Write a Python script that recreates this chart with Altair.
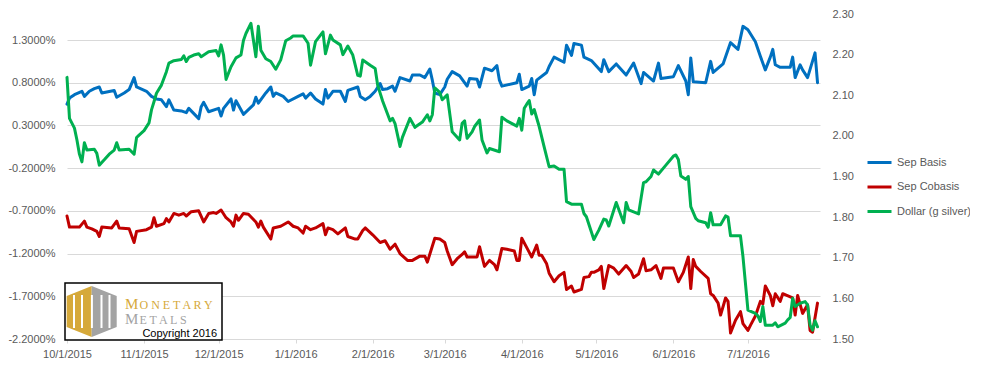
import altair as alt
import pandas as pd

FONT = "Liberation Sans"
TXT = "#595959"
GRID = "#d9d9d9"

# ---- data: day offsets from 2015-10-01 and values ----
basis_day = [0, 1, 3, 6, 7, 9, 11, 13, 14, 19, 20, 23, 25, 27, 28, 32, 34, 36, 38, 40, 41, 43, 46, 48, 49,
             53, 54, 55, 57, 61, 62, 63, 66, 67, 68, 71, 75, 76, 77, 80, 82, 83, 84, 87, 89, 93, 95, 96, 98,
             100, 103, 104, 105, 107, 110, 112, 113, 117, 118, 120, 122, 124, 126, 127, 129, 131, 132, 134,
             138, 139, 142, 144, 146, 147, 148, 150, 152, 153, 155, 158, 161, 162, 165, 166, 168, 171, 173,
             174, 175, 181, 182, 183, 186, 187, 188, 189, 193, 194, 196, 200, 201, 203, 204, 207, 208, 211,
             215, 216, 218, 221, 225, 228, 231, 232, 236, 238, 239, 244, 246, 249, 250, 251, 252, 257, 259,
             260, 264, 267, 270, 272, 274, 277, 279, 281, 283, 284, 285, 287, 291, 292, 293, 295, 296, 298,
             301, 302]
basis_val = [0.55, 0.62, 0.66, 0.70, 0.64, 0.70, 0.73, 0.75, 0.68, 0.71, 0.63, 0.68, 0.72, 0.86, 0.75, 0.70,
             0.64, 0.61, 0.60, 0.52, 0.60, 0.48, 0.47, 0.45, 0.50, 0.38, 0.52, 0.57, 0.46, 0.50, 0.41, 0.50,
             0.61, 0.48, 0.59, 0.43, 0.54, 0.63, 0.56, 0.68, 0.75, 0.64, 0.68, 0.64, 0.58, 0.64, 0.67, 0.62,
             0.68, 0.61, 0.55, 0.72, 0.62, 0.70, 0.70, 0.58, 0.71, 0.75, 0.64, 0.60, 0.64, 0.70, 0.79, 0.72,
             0.73, 0.76, 0.70, 0.86, 0.82, 0.89, 0.89, 0.86, 0.96, 0.83, 0.68, 0.66, 0.75, 0.84, 0.93, 0.88,
             0.76, 0.85, 0.84, 0.75, 0.97, 0.94, 1.00, 0.83, 0.76, 0.80, 0.90, 0.72, 0.76, 0.85, 0.66, 0.83,
             0.92, 0.99, 1.10, 1.04, 1.24, 1.12, 1.26, 1.24, 1.10, 1.06, 0.93, 1.07, 0.93, 1.02, 0.89, 1.03,
             0.79, 0.92, 0.82, 1.03, 0.85, 0.87, 1.00, 0.82, 0.66, 1.09, 0.81, 0.80, 1.05, 0.92, 1.02, 1.27,
             1.19, 1.46, 1.42, 1.28, 1.11, 0.95, 1.10, 1.19, 1.01, 0.98, 0.98, 1.10, 0.86, 1.01, 0.95, 0.86,
             1.15, 0.80]

cobasis_day = [0, 1, 5, 7, 8, 10, 12, 13, 14, 18, 20, 21, 25, 27, 28, 32, 34, 35, 36, 39, 40, 41, 43, 45,
               47, 48, 50, 53, 55, 57, 59, 60, 62, 64, 66, 67, 68, 69, 71, 73, 76, 77, 78, 79, 82, 83, 86,
               89, 91, 93, 95, 96, 98, 100, 103, 104, 105, 107, 109, 112, 113, 116, 117, 119, 120, 123, 126,
               128, 130, 132, 134, 137, 139, 142, 144, 145, 148, 150, 152, 153, 155, 157, 159, 160, 161, 165,
               166, 168, 170, 172, 173, 175, 177, 180, 181, 182, 183, 185, 187, 189, 190, 191, 193, 194, 196,
               198, 200, 201, 203, 204, 207, 208, 210, 211, 212, 214, 215, 216, 218, 220, 222, 225, 227, 228,
               230, 232, 233, 235, 237, 239, 240, 244, 246, 248, 250, 251, 252, 253, 255, 258, 259, 260, 262,
               263, 265, 266, 267, 269, 271, 272, 274, 275, 277, 279, 280, 281, 283, 284, 285, 287, 288, 292,
               293, 294, 296, 298, 299, 300, 302]
cobasis_val = [-0.76, -0.89, -0.89, -0.82, -0.89, -0.91, -0.94, -1.00, -0.89, -0.90, -0.82, -0.90, -0.91,
               -1.07, -0.94, -0.92, -0.89, -0.78, -0.88, -0.85, -0.79, -0.83, -0.73, -0.75, -0.73, -0.76,
               -0.71, -0.70, -0.83, -0.73, -0.72, -0.73, -0.69, -0.78, -0.83, -0.88, -0.75, -0.81, -0.73,
               -0.74, -0.83, -0.89, -0.82, -0.89, -1.03, -0.90, -0.88, -0.83, -0.88, -0.90, -0.96, -0.88,
               -0.92, -0.90, -0.85, -0.98, -0.90, -0.92, -0.97, -0.90, -1.00, -1.03, -1.03, -0.93, -0.90,
               -0.98, -1.07, -1.05, -1.15, -1.09, -1.20, -1.28, -1.28, -1.23, -1.23, -1.30, -1.02, -1.03,
               -1.07, -1.17, -1.33, -1.26, -1.21, -1.18, -1.24, -1.24, -1.12, -1.35, -1.28, -1.33, -1.39,
               -1.14, -1.15, -1.17, -1.28, -1.28, -1.02, -1.13, -1.24, -1.10, -1.22, -1.22, -1.32, -1.43,
               -1.53, -1.46, -1.42, -1.62, -1.58, -1.65, -1.62, -1.48, -1.47, -1.42, -1.42, -1.39, -1.35,
               -1.61, -1.34, -1.37, -1.44, -1.34, -1.41, -1.48, -1.44, -1.26, -1.40, -1.39, -1.34, -1.49,
               -1.37, -1.37, -1.53, -1.42, -1.24, -1.61, -1.27, -1.35, -1.41, -1.49, -1.67, -1.69, -1.78,
               -1.92, -1.72, -1.76, -2.13, -1.98, -1.88, -2.02, -2.10, -2.04, -1.93, -1.76, -1.79, -1.58,
               -1.69, -1.81, -1.67, -1.76, -1.67, -1.72, -1.92, -1.69, -1.90, -1.80, -2.10, -2.12, -1.78]

dollar_day = [0, 1, 3, 4, 5, 6, 7, 8, 11, 12, 13, 15, 17, 19, 20, 21, 25, 27, 28, 29, 31, 33, 34, 35, 36,
              38, 40, 41, 43, 46, 47, 48, 49, 51, 53, 54, 57, 60, 61, 62, 63, 64, 66, 68, 70, 71, 72, 74,
              76, 77, 78, 80, 82, 84, 86, 88, 90, 91, 95, 97, 98, 100, 103, 104, 106, 107, 110, 111, 113,
              115, 117, 118, 119, 122, 124, 125, 127, 130, 131, 132, 134, 135, 138, 140, 143, 145, 146, 147,
              148, 150, 151, 153, 155, 158, 159, 160, 161, 163, 164, 166, 167, 169, 170, 174, 175, 177, 181,
              182, 183, 184, 185, 186, 187, 188, 190, 192, 194, 196, 198, 200, 201, 203, 207, 208, 209, 212,
              214, 216, 217, 218, 221, 224, 225, 226, 230, 232, 233, 235, 236, 238, 241, 244, 245, 246, 247,
              249, 250, 251, 253, 254, 257, 258, 259, 260, 263, 265, 266, 267, 271, 272, 273, 274, 277, 278,
              279, 280, 281, 284, 285, 286, 289, 290, 291, 292, 293, 295, 297, 298, 299, 300, 301, 302]
dollar_val = [2.144, 2.043, 2.019, 1.990, 1.955, 1.936, 1.983, 1.965, 1.967, 1.957, 1.928, 1.941, 1.955,
              1.965, 1.983, 1.965, 1.967, 1.955, 1.996, 2.002, 2.013, 2.032, 2.064, 2.084, 2.105, 2.125,
              2.158, 2.179, 2.185, 2.188, 2.197, 2.183, 2.193, 2.199, 2.202, 2.195, 2.207, 2.210, 2.197,
              2.224, 2.199, 2.139, 2.170, 2.192, 2.199, 2.235, 2.252, 2.277, 2.195, 2.270, 2.211, 2.190,
              2.183, 2.164, 2.187, 2.234, 2.241, 2.246, 2.246, 2.228, 2.174, 2.232, 2.256, 2.202, 2.248,
              2.236, 2.224, 2.200, 2.221, 2.199, 2.149, 2.147, 2.187, 2.174, 2.166, 2.125, 2.086, 2.037,
              2.043, 2.030, 1.974, 1.997, 2.043, 2.021, 2.034, 2.052, 2.037, 2.052, 2.118, 2.107, 2.089,
              2.101, 2.010, 1.990, 2.031, 2.037, 1.994, 2.010, 2.023, 2.039, 1.990, 1.958, 1.969, 1.961,
              2.046, 2.037, 2.024, 2.043, 2.014, 2.068, 2.078, 2.087, 2.054, 2.065, 2.023, 1.973, 1.924,
              1.926, 1.918, 1.918, 1.838, 1.832, 1.832, 1.809, 1.801, 1.745, 1.768, 1.795, 1.793, 1.778,
              1.836, 1.786, 1.836, 1.818, 1.808, 1.885, 1.887, 1.900, 1.916, 1.906, 1.928, 1.950, 1.953,
              1.942, 1.901, 1.893, 1.900, 1.826, 1.797, 1.791, 1.786, 1.775, 1.811, 1.781, 1.781, 1.803,
              1.800, 1.754, 1.754, 1.703, 1.637, 1.571, 1.563, 1.557, 1.543, 1.580, 1.534, 1.534, 1.540,
              1.530, 1.539, 1.547, 1.553, 1.600, 1.580, 1.588, 1.592, 1.584, 1.534, 1.522, 1.545, 1.530]

series_names = ["Sep Basis", "Sep Cobasis", "Dollar (g silver)"]
series_colors = ["#0070C0", "#C00000", "#00B050"]
left_ticks = [-2.2, -1.7, -1.2, -0.7, -0.2, 0.3, 0.8, 1.3]
right_ticks = [1.5, 1.6, 1.7, 1.8, 1.9, 2.0, 2.1, 2.2, 2.3]
month_ticks = [(2015, 10), (2015, 11), (2015, 12), (2016, 1), (2016, 2), (2016, 3),
               (2016, 4), (2016, 5), (2016, 6), (2016, 7)]

START = pd.Timestamp("2015-10-01")


def frame(days, vals, name):
    return pd.DataFrame({
        "date": START + pd.to_timedelta(days, unit="D"),
        "value": vals,
        "series": name,
    })


left_df = pd.concat([frame(basis_day, basis_val, series_names[0]),
                     frame(cobasis_day, cobasis_val, series_names[1])], ignore_index=True)
right_df = frame(dollar_day, dollar_val, series_names[2])

x_enc = alt.X(
    "date:T",
    scale=alt.Scale(domain=[alt.DateTime(year=2015, month=10, date=1),
                            alt.DateTime(year=2016, month=7, date=30)]),
    axis=alt.Axis(
        title=None,
        values=[alt.DateTime(year=y, month=m, date=1) for y, m in month_ticks],
        format="%-m/%-d/%Y",
        grid=False,
        domainColor=GRID,
        tickColor=GRID,
        tickSize=4,
        labelPadding=5,
        labelFlush=False,
        labelOverlap=False,
        labelFont=FONT,
        labelFontSize=11,
        labelColor=TXT,
    ),
)

color_enc = alt.Color(
    "series:N",
    scale=alt.Scale(domain=series_names, range=series_colors),
    legend=alt.Legend(
        title=None,
        orient="none",
        legendX=799,
        legendY=135,
        symbolType="stroke",
        symbolStrokeWidth=3,
        symbolSize=576,
        rowPadding=4.5,
        padding=0,
        labelOffset=4,
        labelFont=FONT,
        labelFontSize=11,
        labelColor=TXT,
    ),
)

line_style = dict(strokeWidth=3, strokeJoin="round", strokeCap="round")

left_lines = alt.Chart(left_df).mark_line(**line_style).encode(
    x=x_enc,
    y=alt.Y(
        "value:Q",
        scale=alt.Scale(domain=[-2.2, 1.6045], nice=False, zero=False),
        axis=alt.Axis(
            title=None,
            values=left_ticks,
            labelExpr="(datum.value < 0 ? '-' : '') + format(abs(datum.value), '.4f') + '%'",
            grid=True,
            gridColor=GRID,
            domain=False,
            ticks=False,
            labelPadding=12,
            labelFont=FONT,
            labelFontSize=11,
            labelColor=TXT,
        ),
    ),
    color=color_enc,
    detail="series:N",
)

right_line = alt.Chart(right_df).mark_line(**line_style).encode(
    x=x_enc,
    y=alt.Y(
        "value:Q",
        scale=alt.Scale(domain=[1.5, 2.3], nice=False, zero=False),
        axis=alt.Axis(
            title=None,
            orient="right",
            values=right_ticks,
            format=".2f",
            grid=False,
            domain=False,
            ticks=False,
            labelPadding=12,
            labelFont=FONT,
            labelFontSize=11,
            labelColor=TXT,
        ),
    ),
    color=color_enc,
)

# ---- logo (decoration) ----
one = pd.DataFrame({"k": [0]})
GOLD = "#D6A93A"
LGRAY = "#A3A3A3"

logo_box = alt.Chart(one).mark_rect(fill="white", stroke="black", strokeWidth=1.5).encode(
    x=alt.value(-2), x2=alt.value(155), y=alt.value(269), y2=alt.value(326))

gold_half = alt.Chart(one).mark_point(
    filled=True, opacity=1, size=4, color=GOLD,
    shape="M 0 -25.5 L -25 -15.5 L -25 15.5 L 0 25.5 Z",
).encode(x=alt.value(24.7), y=alt.value(297.5))

gray_half = alt.Chart(one).mark_point(
    filled=True, opacity=1, size=4, color=LGRAY,
    shape="M 0 -25.5 L 25 -15.5 L 25 15.5 L 0 25.5 Z",
).encode(x=alt.value(24.7), y=alt.value(297.5))

bars = []
for bx in [6.0, 14.0, 23.9, 33.5, 41.5]:
    bars.append(
        alt.Chart(one).mark_rect(fill="white").encode(
            x=alt.value(bx), x2=alt.value(bx + 2), y=alt.value(281), y2=alt.value(314))
    )


def txt(t, x, y, size, color, font="Liberation Serif", align="left"):
    return alt.Chart(one).mark_text(
        text=t, font=font, fontSize=size, color=color, align=align, baseline="alphabetic"
    ).encode(x=alt.value(x), y=alt.value(y))


logo_text = [
    txt("M", 58, 295.2, 15, GOLD),
    txt("O N E T A R Y", 72.5, 295.2, 12, GOLD),
    txt("M", 58, 310.2, 15, LGRAY),
    txt("E T A L S", 72.5, 310.2, 12, LGRAY),
    txt("Copyright 2016", 150, 323, 11, "black", font=FONT, align="right"),
]

chart = alt.layer(
    left_lines, right_line, logo_box, gold_half, gray_half, *bars, *logo_text
).resolve_scale(
    y="independent"
).properties(
    width=753,
    height=325,
    autosize=alt.AutoSizeParams(type="none"),
    padding={"left": 59, "top": 6, "right": 150, "bottom": 28},
    background="white",
).configure_view(stroke=None)

chart.save("out.html", embed_options={"renderer": "svg", "actions": False})
